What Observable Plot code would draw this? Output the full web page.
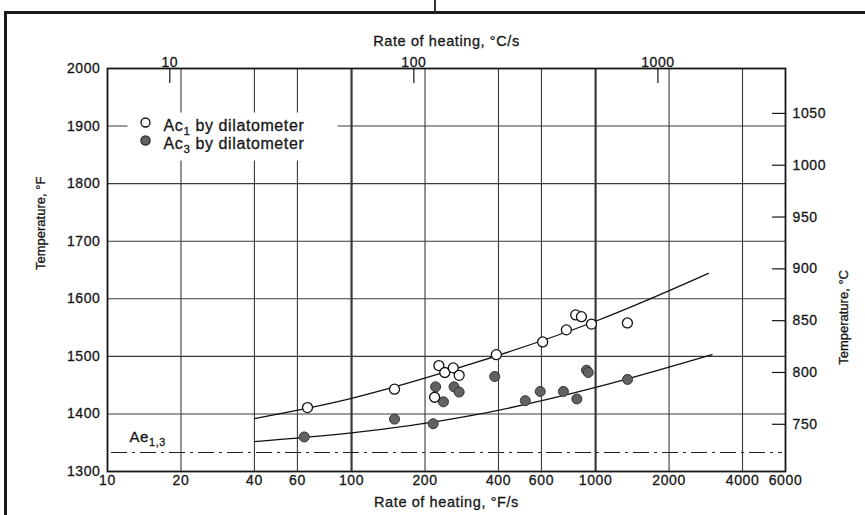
<!DOCTYPE html>
<html><head><meta charset="utf-8">
<script src="https://cdn.jsdelivr.net/npm/d3@7"></script>
<script src="https://cdn.jsdelivr.net/npm/@observablehq/plot@0.6"></script>
<style>
html,body{margin:0;padding:0;background:#fff;}
#wrap{position:relative;width:865px;height:515px;overflow:hidden;}
#chart{position:absolute;left:0;top:0;}
#chart text{letter-spacing:0.6px;stroke:#161616;stroke-width:0.3px;}
#chart text.vtitle{letter-spacing:0;}
#frameL{position:absolute;left:4px;top:11px;width:3px;height:504px;background:#1a1a1a;}
#frameT{position:absolute;left:4px;top:11px;width:861px;height:3px;background:#1a1a1a;}
#cut{position:absolute;left:434px;top:0;width:1.5px;height:12px;background:#333;}
</style></head>
<body><div id="wrap"><div id="chart"></div><div id="frameL"></div><div id="frameT"></div><div id="cut"></div></div>
<script>
// ---- data ----
const ac1Rate = [66, 150, 219, 228, 241, 261, 276, 392, 607, 759, 829, 875, 962, 1350];
const ac1Temp = [1411, 1443, 1429, 1484, 1472, 1480, 1467, 1503, 1525, 1546, 1572, 1569, 1556, 1558];
const ac3Rate = [64, 150, 216, 221, 238, 263, 276, 386, 515, 593, 738, 838, 918, 933, 1352];
const ac3Temp = [1360, 1391, 1383, 1447, 1421, 1447, 1438, 1465, 1423, 1439, 1439, 1426, 1476, 1472, 1460];
const ac1FitRate = [40, 100, 300, 1000, 2900];
const ac1FitTemp = [1392, 1427, 1485, 1561, 1644];
const ac3FitRate = [40, 100, 300, 1000, 3000];
const ac3FitTemp = [1352, 1367, 1396, 1446, 1503];
const ae13Temp = [1333];
const xTicksF = [10, 20, 40, 60, 100, 200, 400, 600, 1000, 2000, 4000, 6000];
const xGridF = [20, 40, 60, 100, 200, 400, 600, 1000, 2000, 4000];
const xBoldF = [100, 1000];
const xTicksC = [10, 100, 1000];
const yTicksF = [1300, 1400, 1500, 1600, 1700, 1800, 1900, 2000];
const yGridF = [1400, 1500, 1600, 1700, 1800, 1900];
const yTicksC = [750, 800, 850, 900, 950, 1000, 1050];
const legendLabels = ["Ac_{1} by dilatometer", "Ac_{3} by dilatometer"];
const aeLabel = ["Ae_{1,3}"];
const xTitleBottom = ["Rate of heating, °F/s"];
const xTitleTop = ["Rate of heating, °C/s"];
const yTitleLeft = ["Temperature, °F"];
const yTitleRight = ["Temperature, °C"];

// ---- layout ----
const W = 865, H = 515, mt = 68, mb = 44, ml = 107, mr = 80;
const plotW = W - ml - mr, plotH = H - mt - mb;
const c2fRate = c => c * 9 / 5;
const c2fTemp = c => c * 9 / 5 + 32;
const ink = "#161616";
const tick = {fill: ink, fontSize: 14};
const title = {fill: ink, fontSize: 14.5};
const vtitle = {fill: ink, fontSize: 13};

const chart = Plot.plot({
  width: W, height: H,
  marginTop: mt, marginBottom: mb, marginLeft: ml, marginRight: mr,
  style: {fontFamily: "'Liberation Sans', Arial, sans-serif", fontSize: "14px", color: ink, background: "transparent"},
  x: {type: "log", domain: [10, 6000], axis: null},
  y: {domain: [1300, 2000], axis: null},
  marks: [
    Plot.ruleX(xGridF, {stroke: "#3a3a3a", strokeWidth: d => xBoldF.includes(d) ? 2.2 : 1.1}),
    Plot.ruleY(yGridF, {stroke: "#3a3a3a", strokeWidth: 1.1}),
    Plot.ruleY(ae13Temp, {stroke: "#222", strokeWidth: 1.2, strokeDasharray: "16,5,3,5", insetLeft: 4, insetRight: 3}),
    Plot.ruleX(xTicksC.map(c2fRate), {stroke: ink, strokeWidth: 1.2, insetBottom: plotH - 15}),
    Plot.ruleY(yTicksC.map(c2fTemp), {stroke: ink, strokeWidth: 1.2, insetLeft: plotW - 13}),
    Plot.frame({stroke: ink, strokeWidth: 1.8}),
    // legend background
    Plot.frame({fill: "white", stroke: null, insetLeft: 20, insetTop: 44, insetRight: 448, insetBottom: 311}),
    Plot.line(ac1FitRate, {x: ac1FitRate, y: ac1FitTemp, curve: "natural", stroke: "#111", strokeWidth: 1.3}),
    Plot.line(ac3FitRate, {x: ac3FitRate, y: ac3FitTemp, curve: "natural", stroke: "#111", strokeWidth: 1.3}),
    Plot.dot(ac3Rate, {x: ac3Rate, y: ac3Temp, r: 5, fill: "#626262", stroke: "#333", strokeWidth: 1}),
    Plot.dot(ac1Rate, {x: ac1Rate, y: ac1Temp, r: 5, fill: "white", stroke: "#111", strokeWidth: 1.3}),
    // legend
    Plot.dot([0], {frameAnchor: "top-left", dx: 38, dy: 54, r: 4.5, fill: "white", stroke: "#111", strokeWidth: 1.3}),
    Plot.dot([0], {frameAnchor: "top-left", dx: 38, dy: 72, r: 4.5, fill: "#626262", stroke: "#333"}),
    Plot.text([legendLabels[0]], {frameAnchor: "top-left", dx: 56, dy: 51, textAnchor: "start", fontSize: 16, fill: ink, text: d => d}),
    Plot.text([legendLabels[1]], {frameAnchor: "top-left", dx: 56, dy: 69, textAnchor: "start", fontSize: 16, fill: ink, text: d => d}),
    Plot.text(aeLabel, {frameAnchor: "bottom-left", dx: 22, dy: -30, textAnchor: "start", fontSize: 15, fill: ink, text: d => d}),
    // tick labels
    Plot.text(xTicksF, {x: d => d, frameAnchor: "bottom", lineAnchor: "top", dy: 4, text: d => String(d), ...tick}),
    Plot.text(xTicksC, {x: c2fRate, frameAnchor: "top", lineAnchor: "bottom", dy: -2, text: d => String(d), ...tick}),
    Plot.text(yTicksF, {y: d => d, frameAnchor: "left", textAnchor: "end", dx: -7, text: d => String(d), ...tick}),
    Plot.text(yTicksC, {y: c2fTemp, frameAnchor: "right", textAnchor: "start", dx: 7, text: d => String(d), ...tick}),
    // axis titles
    Plot.text(xTitleBottom, {frameAnchor: "bottom", dy: 35, text: d => d, ...title}),
    Plot.text(xTitleTop, {frameAnchor: "top", dy: -33, text: d => d, ...title}),
    Plot.text(yTitleLeft, {frameAnchor: "left", dx: -67, rotate: -90, text: d => d, ...vtitle}),
    Plot.text(yTitleRight, {frameAnchor: "right", dx: 58, rotate: -90, text: d => d, ...vtitle})
  ]
});

// vertical titles: no extra letter spacing
d3.select(chart).selectAll("text")
  .filter(function () { return /rotate/.test(this.getAttribute("transform") || ""); })
  .classed("vtitle", true);

// subscripts written as _{...}
d3.select(chart).selectAll("text").each(function () {
  const t = this.textContent;
  if (!t.includes("_{")) return;
  const parts = t.split(/_\{([^}]*)\}/);
  const sel = d3.select(this);
  sel.text(null);
  parts.forEach((p, i) => {
    if (p === "") return;
    const ts = sel.append("tspan").text(p);
    if (i % 2 === 1) ts.attr("dy", 4).attr("font-size", "0.72em");
    else if (i > 0) ts.attr("dy", -4);
  });
});

document.getElementById("chart").appendChild(chart);
</script>
</body></html>
